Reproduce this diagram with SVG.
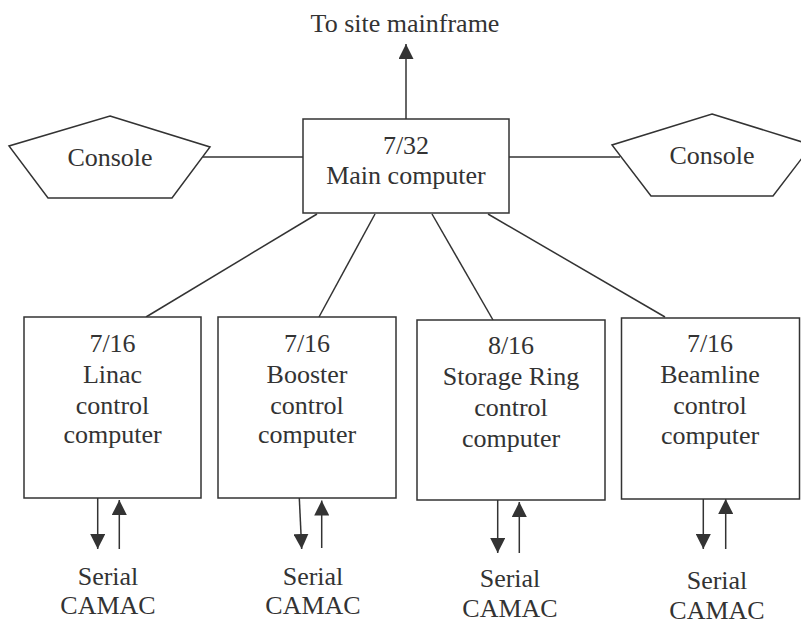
<svg xmlns="http://www.w3.org/2000/svg" width="801" height="621" viewBox="0 0 801 621">
<defs>
<style>
.t{font-family:"Liberation Serif","Times New Roman",serif;font-size:26px;fill:#333;text-anchor:middle}
.s{fill:#fff;stroke:#333;stroke-width:1.5}
.c{fill:none;stroke:#333;stroke-width:1.5}
</style>
<marker id="ah" markerUnits="userSpaceOnUse" markerWidth="15" markerHeight="15" refX="15" refY="7.5" orient="auto" viewBox="0 0 15 15">
<path d="M0,0 L15,7.5 L0,15 z" fill="#333"/>
</marker>
</defs>
<rect width="801" height="621" fill="#fff"/>
<g id="connectors">
<line class="c" x1="406" y1="119" x2="406" y2="44" marker-end="url(#ah)"/>
<line class="c" x1="203" y1="157" x2="303" y2="157"/>
<line class="c" x1="509" y1="157" x2="620" y2="157"/>
<line class="c" x1="317" y1="214" x2="146" y2="317"/>
<line class="c" x1="375" y1="214" x2="319" y2="317"/>
<line class="c" x1="432" y1="214" x2="493" y2="320"/>
<line class="c" x1="488" y1="214" x2="665" y2="317"/>
<line class="c" x1="97.7" y1="498" x2="97.7" y2="549" marker-end="url(#ah)"/>
<line class="c" x1="119.3" y1="549" x2="119.3" y2="500" marker-end="url(#ah)"/>
<line class="c" x1="299.3" y1="498" x2="301.7" y2="549" marker-end="url(#ah)"/>
<line class="c" x1="321.7" y1="548" x2="321.7" y2="500.5" marker-end="url(#ah)"/>
<line class="c" x1="497.7" y1="500" x2="497.7" y2="553" marker-end="url(#ah)"/>
<line class="c" x1="519.3" y1="553" x2="519.3" y2="502" marker-end="url(#ah)"/>
<line class="c" x1="703.3" y1="498" x2="703.3" y2="549" marker-end="url(#ah)"/>
<line class="c" x1="725.7" y1="549" x2="725.7" y2="499" marker-end="url(#ah)"/>
</g>
<g id="title">
<text class="t" x="405" y="32">To site mainframe</text>
</g>
<g id="console-left">
<polygon class="s" points="110,116 210,147 172,198 48,198 9,146"/>
<text class="t" x="110" y="166">Console</text>
</g>
<g id="console-right">
<polygon class="s" points="712,114 812,145 773,196 651,196 612,145"/>
<text class="t" x="712" y="164">Console</text>
</g>
<g id="main">
<rect class="s" x="303" y="119" width="206" height="94"/>
<text class="t" x="406" y="154">7/32</text>
<text class="t" x="406" y="184">Main computer</text>
</g>
<g id="linac">
<rect class="s" x="24" y="317" width="177" height="181"/>
<text class="t" x="112.5" y="352">7/16</text>
<text class="t" x="112.5" y="383">Linac</text>
<text class="t" x="112.5" y="414">control</text>
<text class="t" x="112.5" y="443">computer</text>
<text class="t" x="108" y="585">Serial</text>
<text class="t" x="108" y="614">CAMAC</text>
</g>
<g id="booster">
<rect class="s" x="218" y="317" width="178" height="181"/>
<text class="t" x="307" y="352">7/16</text>
<text class="t" x="307" y="383">Booster</text>
<text class="t" x="307" y="414">control</text>
<text class="t" x="307" y="443">computer</text>
<text class="t" x="313" y="585">Serial</text>
<text class="t" x="313" y="614">CAMAC</text>
</g>
<g id="storage">
<rect class="s" x="417" y="320" width="188" height="180"/>
<text class="t" x="511" y="354">8/16</text>
<text class="t" x="511" y="385">Storage Ring</text>
<text class="t" x="511" y="416">control</text>
<text class="t" x="511" y="447">computer</text>
<text class="t" x="510" y="587">Serial</text>
<text class="t" x="510" y="617">CAMAC</text>
</g>
<g id="beamline">
<rect class="s" x="621.5" y="318" width="178" height="181"/>
<text class="t" x="710" y="352">7/16</text>
<text class="t" x="710" y="383">Beamline</text>
<text class="t" x="710" y="414">control</text>
<text class="t" x="710" y="444">computer</text>
<text class="t" x="717" y="589">Serial</text>
<text class="t" x="717" y="619">CAMAC</text>
</g>
</svg>
